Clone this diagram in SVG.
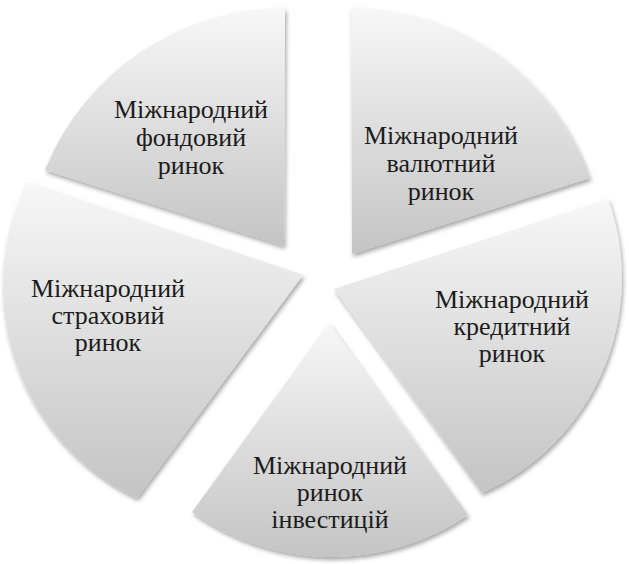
<svg xmlns="http://www.w3.org/2000/svg" width="629" height="564" viewBox="0 0 629 564">
<defs>
<linearGradient id="g" x1="0" y1="0" x2="0" y2="1">
<stop offset="0" stop-color="#f7f7f7"/>
<stop offset="1" stop-color="#c4c4c4"/>
</linearGradient>
<filter id="sh" x="-10%" y="-10%" width="120%" height="120%">
<feDropShadow dx="1.5" dy="3" stdDeviation="2" flood-color="#000" flood-opacity="0.35"/>
</filter>
</defs>
<style>
.s{fill:url(#g);filter:url(#sh);}
.t{font-family:'Liberation Serif','Times New Roman',serif;font-size:26px;fill:#1c1c1c;text-anchor:middle;}
</style>
<rect width="629" height="564" fill="#fff"/>
<g id="fond">
<path class="s" d="M284,246 L45,170 A259,259 0 0,1 285,8 Z"/>
<text class="t" style="font-family:'Liberation Serif',serif" x="191" y="118">Міжнародний<tspan x="191" y="146">фондовий</tspan><tspan x="191" y="174">ринок</tspan></text>
</g>
<g id="valut">
<path class="s" d="M352,254 L351,8 A253,253 0 0,1 590,178 Z"/>
<text class="t" style="font-family:'Liberation Serif',serif" x="441" y="144">Міжнародний<tspan x="441" y="172">валютний</tspan><tspan x="441" y="200">ринок</tspan></text>
</g>
<g id="kredyt">
<path class="s" d="M334,289 L608,199 A235,235 0 0,1 482,493 Z"/>
<text class="t" style="font-family:'Liberation Serif',serif" x="512" y="308">Міжнародний<tspan x="512" y="335">кредитний</tspan><tspan x="512" y="362">ринок</tspan></text>
</g>
<g id="invest">
<path class="s" d="M329,323 L468,515 A241,241 0 0,1 192,512 Z"/>
<text class="t" style="font-family:'Liberation Serif',serif" x="330" y="474">Міжнародний<tspan x="330" y="501">ринок</tspan><tspan x="330" y="528">інвестицій</tspan></text>
</g>
<g id="strakh">
<path class="s" d="M303,275 L137,498 A235,235 0 0,1 27,182 Z"/>
<text class="t" style="font-family:'Liberation Serif',serif" x="108" y="297">Міжнародний<tspan x="108" y="324">страховий</tspan><tspan x="108" y="351">ринок</tspan></text>
</g>
<g id="connectors"/>
</svg>
